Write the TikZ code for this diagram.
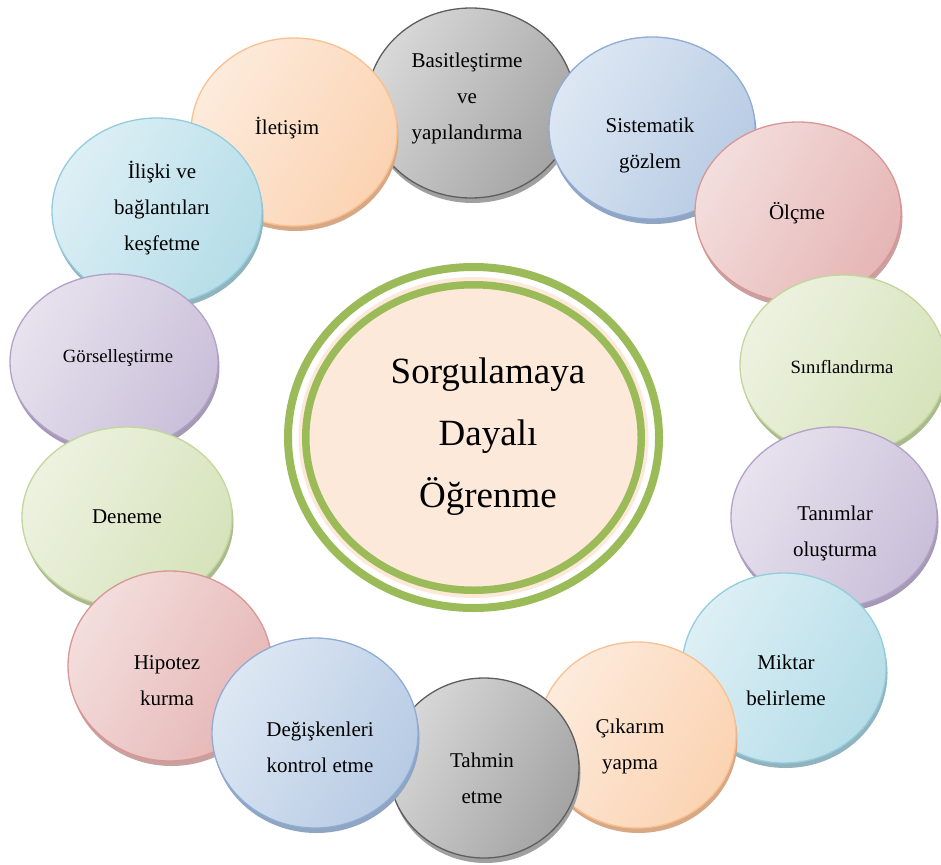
\documentclass[tikz,border=0pt]{standalone}
\usepackage{fontspec}
\setmainfont{Liberation Serif}
\usetikzlibrary{shapes.geometric,shadows}

% disc palettes: L = light side, D = dark side, E = rim, S = thickness below
\definecolor{greyL}{HTML}{D8D8D8}\definecolor{greyD}{HTML}{A4A4A4}
\definecolor{greyE}{HTML}{5E5E5E}\definecolor{greyS}{HTML}{A0A0A0}
\definecolor{blueL}{HTML}{DDE7F3}\definecolor{blueD}{HTML}{B7CBE4}
\definecolor{blueE}{HTML}{8EACD5}\definecolor{blueS}{HTML}{8FA5C2}
\definecolor{redL}{HTML}{F3DEDD}\definecolor{redD}{HTML}{E5B6B5}
\definecolor{redE}{HTML}{D99694}\definecolor{redS}{HTML}{C8A09F}
\definecolor{greenL}{HTML}{EDF2E0}\definecolor{greenD}{HTML}{D6E3BB}
\definecolor{greenE}{HTML}{C3D69B}\definecolor{greenS}{HTML}{AAB98E}
\definecolor{purpleL}{HTML}{E7E2EE}\definecolor{purpleD}{HTML}{CABFD9}
\definecolor{purpleE}{HTML}{B2A2C7}\definecolor{purpleS}{HTML}{A699B6}
\definecolor{cyanL}{HTML}{DDEFF5}\definecolor{cyanD}{HTML}{B5DDE8}
\definecolor{cyanE}{HTML}{93CDDD}\definecolor{cyanS}{HTML}{90B3BE}
\definecolor{orangeL}{HTML}{FDEBDC}\definecolor{orangeD}{HTML}{FBD3B2}
\definecolor{orangeE}{HTML}{FAC090}\definecolor{orangeS}{HTML}{D6A886}
\definecolor{ringGreen}{HTML}{9BBB59}
\definecolor{peach}{HTML}{FDE9D9}

\tikzset{
  disc/.style={ellipse, inner sep=0pt, outer sep=0pt, line width=1.3pt,
    draw=#1E, left color=#1L, right color=#1D, shading angle=60,
    general shadow={fill=#1S, shadow xshift=1.5pt, shadow yshift=-5pt}},
  lbl/.style={align=center, inner sep=0pt, text=black,
    font=\fontsize{21}{36}\selectfont},
  lblsmall/.style={lbl, font=\fontsize{18.7}{34}\selectfont},
}

\begin{document}
\begin{tikzpicture}[x=1pt,y=-1pt]
\useasboundingbox (0,0) rectangle (941,864);

% central hub
\node[ellipse, inner sep=0pt, minimum width=371pt, minimum height=341pt,
      draw=ringGreen, line width=8pt] (hubring) at (473.5,437.5) {};
\node[ellipse, inner sep=0pt, minimum width=350pt, minimum height=321pt,
      fill=peach] (hubglow) at (473.5,437.5) {};
\node[ellipse, inner sep=0pt, minimum width=335.5pt, minimum height=305.5pt,
      fill=peach, draw=ringGreen, line width=7.5pt] (hub) at (473.5,437.5) {};
\node[align=center, inner sep=0pt, font=\fontsize{37}{62}\selectfont]
  (hubtext) at (488,437) {Sorgulamaya\\Dayalı\\Öğrenme};

% surrounding discs, back to front
\node[disc=grey,   minimum width=208pt, minimum height=190pt] (basit)    at (471,103) {};
\node[disc=blue,   minimum width=206pt, minimum height=182pt] (sistem)   at (652,128) {};
\node[disc=orange, minimum width=206pt, minimum height=188pt] (iletisim) at (294,132) {};
\node[disc=red,    minimum width=206pt, minimum height=180pt] (olcme)    at (798,212) {};
\node[disc=cyan,   minimum width=210pt, minimum height=186pt] (iliski)   at (157,211) {};
\node[disc=green,  minimum width=206pt, minimum height=180pt] (sinif)    at (843,365) {};
\node[disc=purple, minimum width=208pt, minimum height=176pt] (gorsel)   at (114,362) {};
\node[disc=purple, minimum width=206pt, minimum height=180pt] (tanim)    at (834,517) {};
\node[disc=green,  minimum width=210pt, minimum height=180pt] (deneme)   at (127,517) {};
\node[disc=cyan,   minimum width=204pt, minimum height=190pt] (miktar)   at (784,668) {};
\node[disc=red,    minimum width=204pt, minimum height=190pt] (hipotez)  at (170,666) {};
\node[disc=orange, minimum width=198pt, minimum height=186pt] (cikarim)  at (637,735) {};
\node[disc=grey,   minimum width=190pt, minimum height=180pt] (tahmin)   at (484,768) {};
\node[disc=blue,   minimum width=206pt, minimum height=190pt] (degisken) at (315,733) {};

% disc labels
\node[lbl] (basit-t)    at (467,98)  {Basitleştirme\\ve\\yapılandırma};
\node[lbl] (sistem-t)   at (650,145) {Sistematik\\gözlem};
\node[lbl] (iletisim-t) at (287,128) {İletişim};
\node[lbl] (olcme-t)    at (797,213) {Ölçme};
\node[lbl] (iliski-t)   at (162,208) {İlişki ve\\bağlantıları\\keşfetme};
\node[lblsmall] (sinif-t)  at (842,367) {Sınıflandırma};
\node[lblsmall] (gorsel-t) at (118,358) {Görselleştirme};
\node[lbl] (tanim-t)    at (835,533) {Tanımlar\\oluşturma};
\node[lbl] (deneme-t)   at (127,517) {Deneme};
\node[lbl] (miktar-t)   at (786,680) {Miktar\\belirleme};
\node[lbl] (hipotez-t)  at (167,681) {Hipotez\\kurma};
\node[lbl] (cikarim-t)  at (630,746) {Çıkarım\\yapma};
\node[lbl] (tahmin-t)   at (482,778) {Tahmin\\etme};
\node[lbl] (degisken-t) at (320,747) {Değişkenleri\\kontrol etme};
\end{tikzpicture}
\end{document}
